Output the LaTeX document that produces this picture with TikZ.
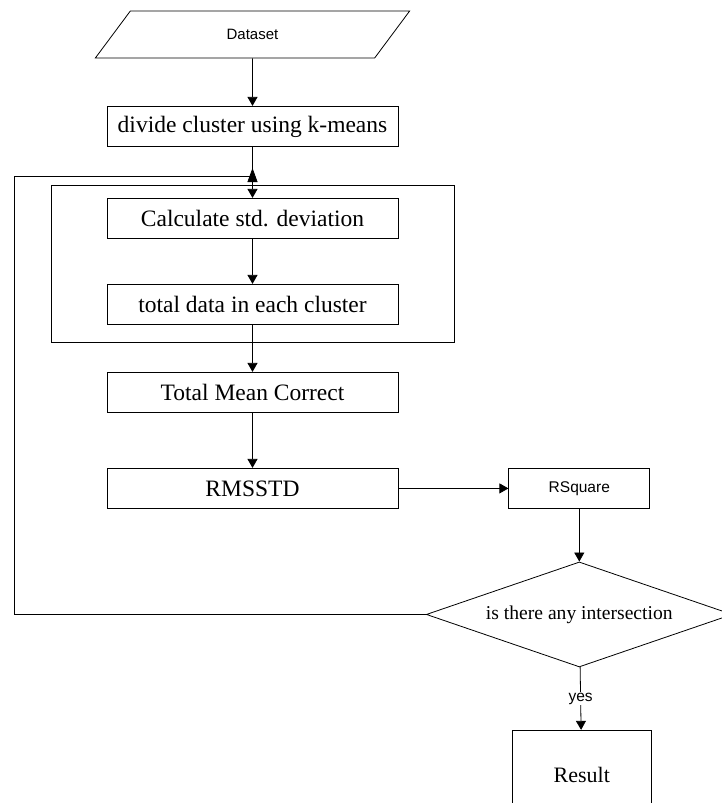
\documentclass[tikz,border=0pt]{standalone}
\usepackage{fontspec}
\setmainfont{Liberation Serif}
\setsansfont{Liberation Sans}
\usetikzlibrary{arrows.meta, positioning, shapes.geometric, fit}
\tikzset{
    flowchart/.style={>={Triangle[length=9pt, width=10pt]}, line width=0.8pt, x=1pt, y=-1pt},
    block/.style={draw, minimum width=291pt, minimum height=40.2pt, align=center, font=\fontsize{23.5}{26}\selectfont},
    smallblock/.style={draw, minimum width=141pt, minimum height=40.5pt, font=\sffamily\fontsize{15.5}{18}\selectfont},
    io/.style={draw, trapezium, trapezium left angle=64, trapezium right angle=116, trapezium stretches=true,
        minimum width=315pt, minimum height=47pt, font=\sffamily\fontsize{15}{18}\selectfont},
    decision/.style={draw, diamond, aspect=2.9, minimum width=306pt, minimum height=105pt, inner sep=0pt,
        font=\fontsize{19.6}{22}\selectfont},
    % label sitting on a vertical arrow
    onarrow/.style={fill=white, inner sep=1pt, font=\sffamily\fontsize{15.5}{18}\selectfont},
}
\begin{document}
\begin{tikzpicture}[flowchart]
    \useasboundingbox (0,0) rectangle (722,803);
    \node[io]                        (data)    at (252.5,34.5) {Dataset};
    \node[block, below=47.5pt of data]  (divide)  {divide cluster using k-means};
    \node[block, below=51pt of divide]  (calc)    {Calculate std. deviation};
    \node[block, below=45pt of calc]    (total)   {total data in each cluster};
    \node[block, below=47pt of total]   (mean)    {Total Mean Correct};
    \node[block, below=55pt of mean]    (rmsstd)  {RMSSTD};
    \node[smallblock, right=110pt of rmsstd] (rsquare) {RSquare};
    \node[decision, below=52.5pt of rsquare] (check)   {is there any intersection};
    \node[block, minimum width=139pt, minimum height=90pt, font=\fontsize{22}{24}\selectfont,
        below=62.5pt of check, xshift=2.5pt] (result) {Result};
    \node[draw, fit=(calc)(total), inner xsep=55.5pt, inner ysep=15pt, yshift=-2pt] (inner) {};
    \coordinate (merge) at (252.5,176);
    \coordinate (loop)  at (14,176);

    \draw[->] (data) -- (divide);
    \draw[->] (divide) -- (calc);
    \draw[->] (calc) -- (total);
    \draw[->] (total) -- (mean);
    \draw[->] (mean) -- (rmsstd);
    \draw[->] (rmsstd) -- (rsquare);
    \draw[->] (rsquare) -- (check);
    \draw[->] (check) -- node[onarrow] {yes} (result);

    \draw (check.west) -| (loop) -- (merge);
    \draw[-{Triangle[length=14pt, width=10pt]}] ([yshift=-7pt]merge) -- ([yshift=8pt]merge);
\end{tikzpicture}
\end{document}
